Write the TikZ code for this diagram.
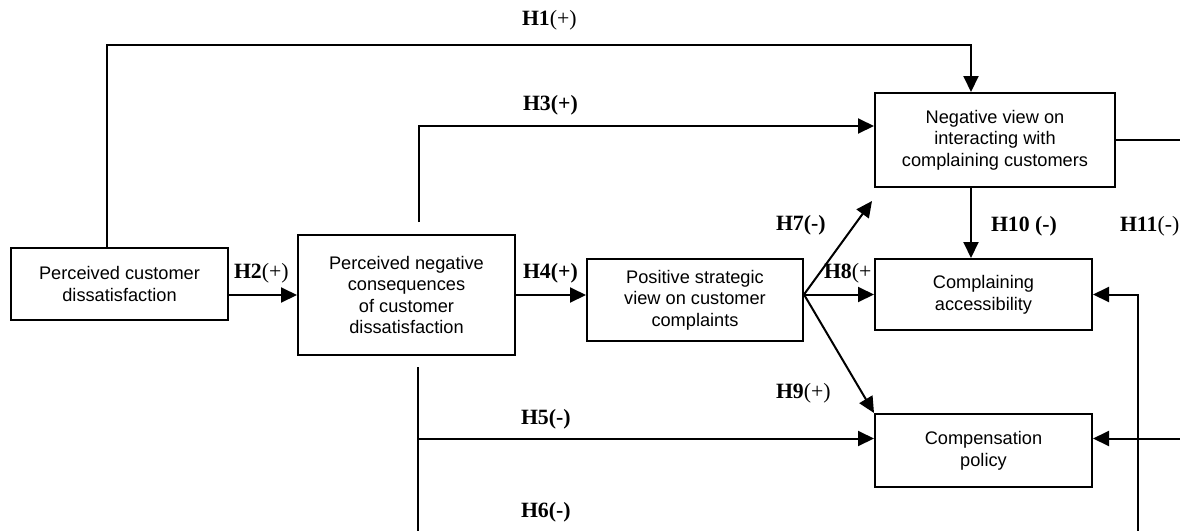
\documentclass[tikz,border=0pt]{standalone}
\usepackage{fontspec}
\setmainfont{Liberation Serif}
\setsansfont{Liberation Sans}
\usepackage{tikz}
\usetikzlibrary{arrows.meta,calc}

\begin{document}
\begin{tikzpicture}[x=.5pt,y=-.5pt,>={Triangle[length=8pt,width=7.5pt]},line width=1pt,
 box/.style={draw,align=center,inner sep=0pt,font=\sffamily\fontsize{9.1}{10.8}\selectfont},
 hyp/.style={anchor=west,inner sep=0pt,font=\fontsize{10.9}{13}\selectfont}]
 \useasboundingbox (0,0) rectangle (1180,531);
 \node[box,minimum width=108.5pt,minimum height=36pt] (dis) at (119.5,284) {Perceived customer\\dissatisfaction};
 \node[box,minimum width=108.5pt,minimum height=60pt] (cons) at (406.5,295) {Perceived negative\\consequences\\of customer\\dissatisfaction};
 \node[box,minimum width=108pt,minimum height=41pt] (strat) at (695,300) {Positive strategic\\view on customer\\complaints};
 \node[box,minimum width=120pt,minimum height=47pt] (negview) at (995,140) {Negative view on\\interacting with\\complaining customers};
 \node[box,minimum width=108.5pt,minimum height=35.5pt] (access) at (983.5,294.5) {Complaining\\accessibility};
 \node[box,minimum width=108.5pt,minimum height=36.5pt] (comp) at (983.5,450.5) {Compensation\\policy};

 \coordinate (h1) at (107,45);
 \coordinate (h1e) at (971,45);
 \coordinate (h3) at (419,222);
 \coordinate (h5) at (418,367);
 \coordinate (h6) at (418,531);
 \coordinate (h11) at (1138,531);
 \coordinate (rim) at (1180,0);
 \coordinate (compin) at ([yshift=6pt]comp.west);
 \coordinate (fan) at (strat.east |- access.west);

 \draw[->] (dis.north -| h1) |- (h1e) -- (negview.north -| h1e);
 \draw[->] (dis.east |- cons) -- (cons.west);
 \draw[->] (h3) |- ([yshift=7pt]negview.west);
 \draw[->] (cons.east) -- (strat.west |- cons.east);
 \draw (h5) -- (h6);
 \draw[->] (h5 |- compin) -- (compin);
 \draw[->] (fan) -- ([xshift=-1pt,yshift=-6.5pt]negview.south west);
 \draw[->] (fan) -- (access.west);
 \draw[->] (fan) -- (comp.north west);
 \draw[->] (negview.south -| h1e) -- (access.north -| h1e);
 \draw (negview.east) -- (negview.east -| rim);
 \draw[->] (h11) |- (access.east);
 \draw[->] (rim |- compin) -- (comp.east |- compin);

 \node[hyp] (l1) at (521,20) {\textbf{H1}(+)};
 \node[hyp] (l2) at (233,273) {\textbf{H2}(+)};
 \node[hyp] (l3) at (522,105) {\textbf{H3(+)}};
 \node[hyp] (l4) at (522,273) {\textbf{H4(+)}};
 \node[hyp] (l5) at (520,419) {\textbf{H5(-)}};
 \node[hyp] (l6) at (520,512) {\textbf{H6(-)}};
 \node[hyp] (l7) at (775,225) {\textbf{H7(-)}};
 \node[hyp] (l8) at (823,273) {\textbf{H8}(+};
 \node[hyp] (l9) at (775,393) {\textbf{H9}(+)};
 \node[hyp] (l10) at (990,226) {\textbf{H10 (-)}};
 \node[hyp] (l11) at (1119,226) {\textbf{H11}(-)};
\end{tikzpicture}
\end{document}
